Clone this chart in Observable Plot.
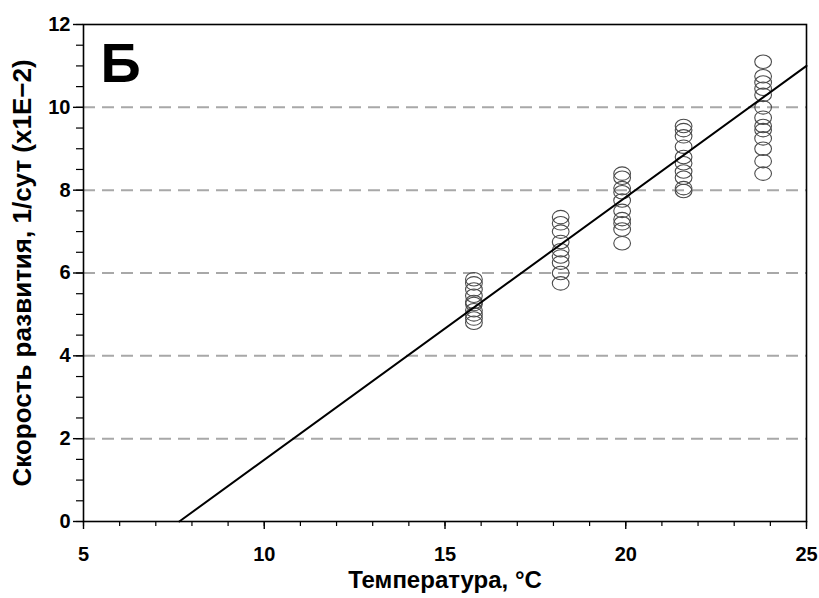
<!DOCTYPE html>
<html>
<head>
<meta charset="utf-8">
<script src="https://cdn.jsdelivr.net/npm/d3@7"></script>
<script src="https://cdn.jsdelivr.net/npm/@observablehq/plot@0.6"></script>
<style>
  body { margin: 0; background: #fff; }
  #chart svg { display: block; }
</style>
</head>
<body>
<div id="chart"></div>
<script>
// Development rate (x1E-2 per day) measured at five rearing temperatures
const temperatures = [15.8, 18.2, 19.9, 21.6, 23.8];
const rates15_8 = [5.85, 5.75, 5.6, 5.45, 5.3, 5.25, 5.1, 5.0, 4.9, 4.8];
const rates18_2 = [7.35, 7.2, 7.0, 6.75, 6.55, 6.4, 6.25, 6.0, 5.75];
const rates19_9 = [8.4, 8.3, 8.05, 7.95, 7.75, 7.5, 7.3, 7.2, 7.05, 6.72];
const rates21_6 = [9.55, 9.45, 9.3, 9.05, 8.8, 8.65, 8.45, 8.3, 8.05, 7.98];
const rates23_8 = [11.1, 10.75, 10.6, 10.45, 10.3, 10.0, 9.75, 9.55, 9.45, 9.25, 9.0, 8.7, 8.4];

// Fitted linear regression, from the developmental threshold to 25 °C
const fitTemperature = [7.65, 25];
const fitRate = [0, 11.0];

// Axis ticks
const xTicks = [5, 10, 15, 20, 25];
const xMinorTicks = d3.range(5, 25.01, 1);
const yTicks = [0, 2, 4, 6, 8, 10, 12];
const yMinorTicks = d3.range(0, 12.01, 0.5);
const gridLines = [2, 4, 6, 8, 10];

const panelLetter = "Б";
const xLabel = "Температура, °C";
const yLabel = "Скорость развития, 1/сут (x1E−2)";

const seriesRates = [rates15_8, rates18_2, rates19_9, rates21_6, rates23_8];
const observations = temperatures.flatMap((t, i) => seriesRates[i].map(r => ({t, r})));
const fitLine = fitTemperature.map((t, i) => ({t, r: fitRate[i]}));

// Open ellipse marker, slightly wider than tall
const ellipseSymbol = {
  draw(context, size) {
    const r = Math.sqrt(size / Math.PI);
    const rx = r * 1.18, ry = r * 0.95, k = 0.5523;
    context.moveTo(rx, 0);
    context.bezierCurveTo(rx, ry * k, rx * k, ry, 0, ry);
    context.bezierCurveTo(-rx * k, ry, -rx, ry * k, -rx, 0);
    context.bezierCurveTo(-rx, -ry * k, -rx * k, -ry, 0, -ry);
    context.bezierCurveTo(rx * k, -ry, rx, -ry * k, rx, 0);
    context.closePath();
  }
};

const font = "'Liberation Sans', Arial, Helvetica, sans-serif";

const chart = Plot.plot({
  width: 819,
  height: 598,
  marginLeft: 83,
  marginRight: 13,
  marginTop: 24,
  marginBottom: 77,
  style: {fontFamily: font, fontSize: "20px", fontWeight: "bold", color: "#000", background: "#fff"},
  x: {domain: [5, 25], axis: null},
  y: {domain: [0, 12], axis: null},
  marks: [
    Plot.ruleY(gridLines, {stroke: "#a8a8a8", strokeWidth: 2, strokeDasharray: "12,7"}),
    Plot.dot(observations, {x: "t", y: "r", r: 7.1, symbol: ellipseSymbol, stroke: "#4a4a4a", strokeWidth: 1.1, fill: "none"}),
    Plot.line(fitLine, {x: "t", y: "r", stroke: "#000", strokeWidth: 2}),
    Plot.frame({stroke: "#000", strokeWidth: 1.6}),
    Plot.axisX(xTicks, {tickSize: 8, tickPadding: 17, label: null, strokeWidth: 1.4}),
    Plot.axisX(xMinorTicks, {tickSize: 5, tickFormat: () => "", label: null, strokeWidth: 1.2}),
    Plot.axisY(yTicks, {tickSize: 10, tickPadding: 3, label: null, strokeWidth: 1.4}),
    Plot.axisY(yMinorTicks, {tickSize: 7, tickFormat: () => "", label: null, strokeWidth: 1.2}),
    Plot.text([panelLetter], {frameAnchor: "top-left", text: d => d, dx: 17, dy: 18, lineAnchor: "top", textAnchor: "start", fontSize: 56, fontWeight: "bold"}),
    Plot.text([xLabel], {frameAnchor: "bottom", text: d => d, dy: 49, lineAnchor: "top", fontSize: 24, fontWeight: "bold"}),
    Plot.text([yLabel], {frameAnchor: "left", text: d => d, dx: -61, dy: 0, rotate: -90, textAnchor: "middle", lineAnchor: "middle", fontSize: 26, fontWeight: "bold"})
  ]
});

document.getElementById("chart").append(chart);
</script>
</body>
</html>
